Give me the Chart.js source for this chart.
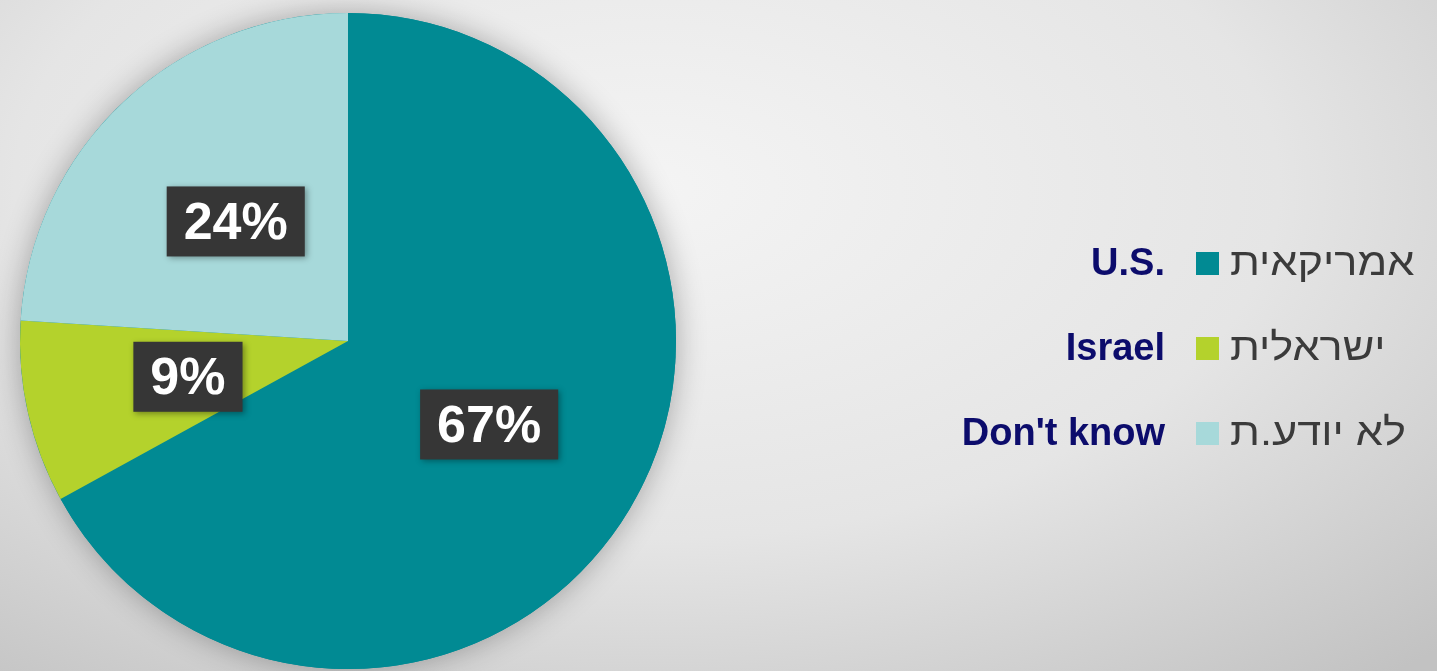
<!DOCTYPE html>
<html lang="he">
<head>
<meta charset="utf-8">
<title>אמריקאית / ישראלית</title>
<script src="https://cdn.jsdelivr.net/npm/chart.js@4.4.1/dist/chart.umd.min.js"></script>
<style>
    html, body {
        margin: 0;
        padding: 0;
        width: 1437px;
        height: 671px;
        overflow: hidden;
        background: radial-gradient(ellipse 80% 95% at 45% 28%, #f4f4f4 0%, #e5e5e5 55%, #c2c2c2 100%);
    }
    #caixa {
        position: relative;
        width: 1437px;
        height: 671px;
    }
</style>
</head>
<body>
<div id="caixa"><canvas id="grafico"></canvas></div>
<script>
// Dados do gráfico
const categorias = ["אמריקאית", "ישראלית", "לא יודע.ת"];
const rotulosIngles = ["U.S.", "Israel", "Don't know"];
const percentuais = [67, 9, 24];
const cores = ["#018a93", "#b4d22c", "#a7d9da"];

// Sombra suave por trás da pizza inteira
const sombraPizza = {
    id: 'sombraPizza',
    beforeDatasetsDraw(chart) {
        const arco = chart.getDatasetMeta(0).data[0];
        if (!arco) return;
        const ctx = chart.ctx;
        ctx.save();
        ctx.shadowColor = 'rgba(0, 0, 0, 0.3)';
        ctx.shadowBlur = 30;
        ctx.fillStyle = cores[0];
        ctx.beginPath();
        ctx.arc(arco.x, arco.y, arco.outerRadius, 0, Math.PI * 2);
        ctx.fill();
        ctx.restore();
    }
};

// Caixinhas escuras com o percentual no meio de cada fatia
const rotulosFatias = {
    id: 'rotulosFatias',
    afterDatasetsDraw(chart) {
        const ctx = chart.ctx;
        const meta = chart.getDatasetMeta(0);
        const valores = chart.data.datasets[0].data;
        ctx.save();
        ctx.font = 'bold 52px "Liberation Sans", Arial, sans-serif';
        ctx.textAlign = 'center';
        ctx.textBaseline = 'middle';
        meta.data.forEach((arco, i) => {
            const p = arco.getCenterPoint();
            const texto = valores[i] + '%';
            const largura = ctx.measureText(texto).width + 34;
            const altura = 70;
            ctx.shadowColor = 'rgba(0, 0, 0, 0.35)';
            ctx.shadowBlur = 6;
            ctx.shadowOffsetX = 2;
            ctx.shadowOffsetY = 2;
            ctx.fillStyle = '#363636';
            ctx.fillRect(p.x - largura / 2, p.y - altura / 2, largura, altura);
            ctx.shadowColor = 'transparent';
            ctx.fillStyle = '#ffffff';
            ctx.fillText(texto, p.x, p.y + 3);
        });
        ctx.restore();
    }
};

// Legenda: nome em inglês + quadradinho + nome em hebraico
const legendaLateral = {
    id: 'legendaLateral',
    afterDraw(chart, args, opts) {
        const ctx = chart.ctx;
        const nomes = chart.data.labels;
        const coresFatias = chart.data.datasets[0].backgroundColor;
        ctx.save();
        nomes.forEach((nome, i) => {
            const base = opts.topo + i * opts.espaco;
            ctx.fillStyle = '#0c0c6c';
            ctx.font = 'bold 38px "Liberation Sans", Arial, sans-serif';
            ctx.textAlign = 'right';
            ctx.direction = 'ltr';
            ctx.fillText(rotulosIngles[i], opts.xIngles, base);

            ctx.fillStyle = coresFatias[i];
            ctx.fillRect(opts.xQuadrado, base - 23, 23, 23);

            // texto hebraico um pouco mais largo
            ctx.save();
            ctx.translate(opts.xTexto, base);
            ctx.scale(1.14, 1);
            ctx.fillStyle = '#3b3b3b';
            ctx.font = '38px "Liberation Sans", "DejaVu Sans", sans-serif';
            ctx.direction = 'rtl';
            ctx.textAlign = 'left';
            ctx.fillText(nome, 0, 0);
            ctx.restore();
        });
        ctx.restore();
    }
};

function criarGraficoPizza(id, valoresX, valoresY, coresFatias) {
    return new Chart(id, {
        type: 'pie',
        data: {
            labels: valoresX,
            datasets: [{
                data: valoresY,
                backgroundColor: coresFatias,
                borderWidth: 0
            }]
        },
        options: {
            responsive: true,
            maintainAspectRatio: false,
            animation: false,
            layout: {
                padding: { left: 20, top: 13, right: 761, bottom: 2 }
            },
            plugins: {
                legend: { display: false },
                tooltip: { enabled: false },
                legendaLateral: {
                    topo: 275,
                    espaco: 85,
                    xIngles: 1165,
                    xQuadrado: 1196,
                    xTexto: 1230
                }
            }
        },
        plugins: [sombraPizza, rotulosFatias, legendaLateral]
    });
}

criarGraficoPizza("grafico", categorias, percentuais, cores);
</script>
</body>
</html>
